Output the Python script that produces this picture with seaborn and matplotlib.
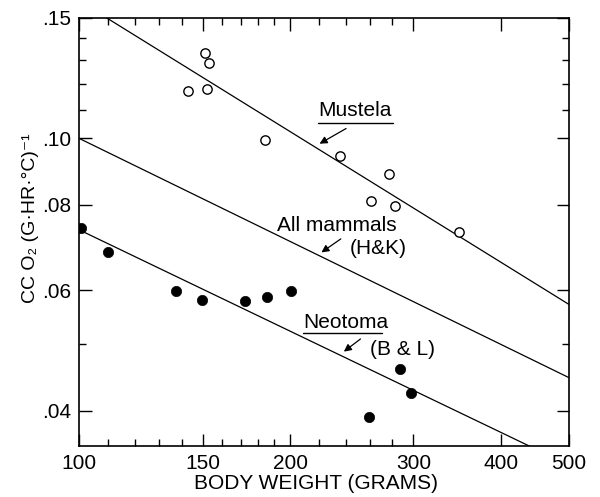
import numpy as np
import pandas as pd
import matplotlib
matplotlib.use("Agg")
import matplotlib.pyplot as plt
from matplotlib.ticker import NullFormatter
import seaborn as sns

# Mustela (open circles)
mustela_wt = [151, 153, 143, 152, 184, 236, 277, 261, 282, 348]
mustela_o2 = [0.1335, 0.129, 0.1173, 0.118, 0.0995, 0.0943, 0.0887, 0.081, 0.0796, 0.0729]

# Neotoma (filled circles)
neotoma_wt = [100.7, 110, 137.5, 149.6, 172.5, 185.3, 200.4, 287, 297.6, 259.5]
neotoma_o2 = [0.074, 0.0683, 0.0599, 0.058, 0.0578, 0.0587, 0.0599, 0.046, 0.0424, 0.0392]

# fitted lines, values at 100 g and 500 g
line_wt = [100, 500]
mustela_fit = [0.1589, 0.0572]
mammals_fit = [0.100, 0.0447]
neotoma_fit = [0.0735, 0.0333]

x_major = [100, 150, 200, 300, 400, 500]
x_minor = [110, 120, 130, 140, 160, 170, 180, 190, 220, 240, 260, 280]
y_major = [0.04, 0.06, 0.08, 0.10, 0.15]
y_minor = [0.05, 0.11, 0.12, 0.13, 0.14]
y_labels = [".04", ".06", ".08", ".10", ".15"]

sns.set_style("ticks")
plt.rcParams["font.family"] = ["Liberation Sans", "DejaVu Sans"]
plt.rcParams["text.color"] = "black"
plt.rcParams["axes.labelcolor"] = "black"

fig = plt.figure(figsize=(6, 4.97), dpi=100)
ax = fig.add_axes([0.132, 0.1026, 0.816, 0.8612])

fits = pd.DataFrame({"wt": line_wt * 3,
                     "o2": mustela_fit + mammals_fit + neotoma_fit,
                     "grp": ["m"] * 2 + ["a"] * 2 + ["n"] * 2})
sns.lineplot(data=fits, x="wt", y="o2", units="grp", estimator=None,
             color="black", lw=0.9, ax=ax)

sns.scatterplot(x=mustela_wt, y=mustela_o2, marker="o", s=45,
                facecolor="white", edgecolor="black", linewidth=1.0, ax=ax, zorder=3)
sns.scatterplot(x=neotoma_wt, y=neotoma_o2, marker="o", s=55,
                color="black", edgecolor="black", linewidth=0.5, ax=ax, zorder=3)

ax.set_xscale("log")
ax.set_yscale("log")
ax.set_xlim(100, 500)
ax.set_ylim(0.0355, 0.15)

ax.set_xticks(x_major)
ax.set_xticklabels([str(v) for v in x_major])
ax.set_xticks(x_minor, minor=True)
ax.set_yticks(y_major)
ax.set_yticklabels(y_labels)
ax.set_yticks(y_minor, minor=True)
ax.xaxis.set_minor_formatter(NullFormatter())
ax.yaxis.set_minor_formatter(NullFormatter())

ax.tick_params(which="both", direction="in", top=True, right=True,
               width=1.0, labelsize=15, colors="black")
ax.tick_params(which="major", length=9, pad=6)
ax.tick_params(which="minor", length=5)
for s in ax.spines.values():
    s.set_linewidth(1.2)
    s.set_color("black")

ax.set_xlabel("BODY WEIGHT (GRAMS)", fontsize=15, labelpad=0)
ax.xaxis.set_label_coords(0.484, -0.065)
ax.set_ylabel("CC O₂ (G·HR·°C)⁻¹", fontsize=14)
ax.yaxis.set_label_coords(-0.082, 0.533)

tr = ax.transAxes
txt = dict(transform=tr, fontsize=15, va="center", ha="left", color="black")
arr = dict(arrowstyle="-|>", lw=0.9, color="black", mutation_scale=11)

ax.text(0.488, 0.783, "Mustela", **txt)
ax.plot([0.488, 0.641], [0.754, 0.754], transform=tr, color="black", lw=1.0)
ax.annotate("", xy=(0.486, 0.703), xytext=(0.55, 0.745), xycoords=tr, textcoords=tr, arrowprops=arr)

ax.text(0.404, 0.516, "All mammals", **txt)
ax.text(0.553, 0.4626, "(H&K)", **txt)
ax.annotate("", xy=(0.49, 0.4486), xytext=(0.539, 0.4876), xycoords=tr, textcoords=tr, arrowprops=arr)

ax.text(0.4578, 0.2897, "Neotoma", **txt)
ax.plot([0.457, 0.618], [0.2633, 0.2633], transform=tr, color="black", lw=1.0)
ax.text(0.594, 0.2266, "(B & L)", **txt)
ax.annotate("", xy=(0.536, 0.2166), xytext=(0.579, 0.254), xycoords=tr, textcoords=tr, arrowprops=arr)

fig.savefig("out.png", dpi=100)
